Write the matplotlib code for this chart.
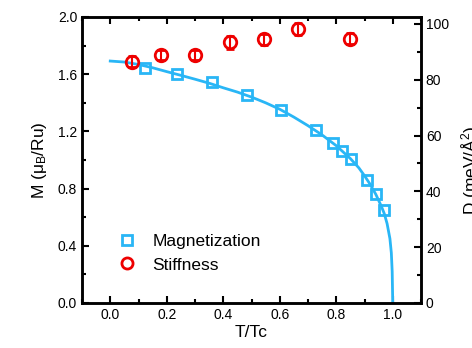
import matplotlib
matplotlib.use("Agg")
import matplotlib.pyplot as plt
from matplotlib.ticker import MultipleLocator
from matplotlib.lines import Line2D

plt.rcParams['font.family'] = ['Liberation Sans', 'DejaVu Sans']
plt.rcParams['mathtext.fontset'] = 'custom'
plt.rcParams['mathtext.rm'] = 'Liberation Sans'
plt.rcParams['mathtext.it'] = 'Liberation Sans:italic'

# Magnetization data (T/Tc, M in mu_B/Ru)
mag_t = [0.124, 0.238, 0.361, 0.485, 0.604, 0.727, 0.787, 0.819, 0.851, 0.909, 0.940, 0.968]
mag_m = [1.641, 1.599, 1.543, 1.455, 1.353, 1.208, 1.121, 1.065, 1.009, 0.860, 0.762, 0.650]

# Fit curve
fit_t = [0.0, 0.05, 0.1, 0.15, 0.2, 0.25, 0.3, 0.35, 0.4, 0.45, 0.5, 0.55, 0.6, 0.65,
         0.7, 0.75, 0.8, 0.85, 0.88, 0.9, 0.92, 0.94, 0.96, 0.97, 0.98, 0.99, 0.995, 0.998, 1.0]
fit_m = [1.692, 1.685, 1.668, 1.645, 1.618, 1.592, 1.565, 1.537, 1.505, 1.475, 1.44, 1.40,
         1.355, 1.30, 1.24, 1.175, 1.10, 1.01, 0.945, 0.89, 0.83, 0.76, 0.675, 0.625,
         0.555, 0.45, 0.35, 0.22, 0.0]

# Stiffness data (T/Tc, D in meV/A^2)
stf_t = [0.077, 0.180, 0.299, 0.424, 0.545, 0.663, 0.848]
stf_d = [86.5, 88.8, 88.8, 93.4, 94.5, 98.1, 94.7]
stf_err = [2.0, 1.8, 1.8, 2.2, 2.0, 2.2, 2.0]

blue = '#29B6F6'
red = '#EE0000'

fig = plt.figure(figsize=(4.72, 3.48), dpi=100)
ax = fig.add_axes([82/472, 45/348, (421-82)/472, (303-17)/348])
ax2 = ax.twinx()

ax.plot(fit_t, fit_m, color=blue, lw=2, zorder=2)
ax.plot(mag_t, mag_m, ls='none', marker='s', ms=7.5, mfc='none', mec=blue, mew=2,
        label='Magnetization', zorder=3)
ax2.errorbar(stf_t, stf_d, yerr=stf_err, ls='none', marker='o', ms=9, mfc='none',
             mec=red, mew=2, ecolor=red, elinewidth=1.5, capsize=3, capthick=1.5)

ax.set_xlim(-0.1, 1.1)
ax.set_ylim(0, 2.0)
ax2.set_ylim(0, 102.5)

ax.xaxis.set_major_locator(MultipleLocator(0.2))
ax.xaxis.set_minor_locator(MultipleLocator(0.1))
ax.yaxis.set_major_locator(MultipleLocator(0.4))
ax.yaxis.set_minor_locator(MultipleLocator(0.2))
ax2.yaxis.set_major_locator(MultipleLocator(20))
ax2.yaxis.set_minor_locator(MultipleLocator(10))

ax.tick_params(which='both', direction='in', top=True, right=False, width=1.5, labelsize=10)
ax.tick_params(which='major', length=5)
ax.tick_params(which='minor', length=3)
ax2.tick_params(which='both', direction='in', width=1.5, labelsize=10)
ax2.tick_params(which='major', length=5)
ax2.tick_params(which='minor', length=3)

for a in (ax, ax2):
    for s in a.spines.values():
        s.set_linewidth(1.8)

ax.set_xticks([0.0, 0.2, 0.4, 0.6, 0.8, 1.0])
ax.set_xticklabels(['0.0', '0.2', '0.4', '0.6', '0.8', '1.0'])
ax.set_xlabel('T/Tc', fontsize=12.5, labelpad=2)
ax.set_ylabel(r'M (μ$_{\rm B}$/Ru)', fontsize=12.5, labelpad=6)

fig.text(459/472, 0.51, r'D (meV/Å$^2$)', rotation=90, ha='left', va='center', fontsize=12.5)

h1, l1 = ax.get_legend_handles_labels()
stf_handle = Line2D([], [], ls='none', marker='o', ms=8, mfc='none', mec=red, mew=2)
ax.legend([h1[0], stf_handle], ['Magnetization', 'Stiffness'], loc='lower left',
          bbox_to_anchor=(0.06, 0.052), frameon=False, fontsize=12.5,
          handletextpad=1.0, labelspacing=0.5, handlelength=1.0)

fig.savefig('out.png', dpi=100)
